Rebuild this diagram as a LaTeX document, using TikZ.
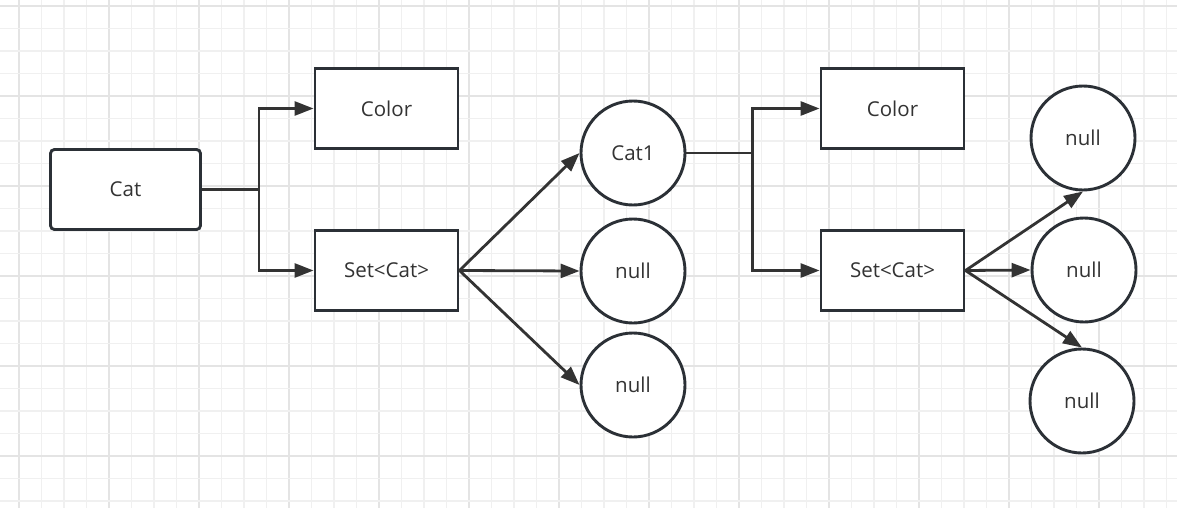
\documentclass[tikz,border=0pt]{standalone}
\usepackage{fontspec}
\setmainfont{Open Sans}
\usepackage{tikz}
\usetikzlibrary{arrows.meta}

\definecolor{edgegrey}{HTML}{2B3036}
\definecolor{arrowgrey}{HTML}{333333}
\definecolor{gridminor}{HTML}{F0F0F0}
\definecolor{gridmajor}{HTML}{E4E4E4}

\tikzset{
  field/.style={draw=edgegrey, line width=2.9pt, fill=white, minimum width=143pt, minimum height=80pt, inner sep=0pt},
  root/.style={field, rounded corners=4pt, minimum width=150pt},
  slot/.style={draw=edgegrey, line width=2.9pt, fill=white, circle, minimum size=104pt, inner sep=0pt},
  link/.style={draw=arrowgrey, line width=2.8pt, -{Triangle[length=19pt, width=14pt]}}
}

\begin{document}
\begin{tikzpicture}[x=1pt, y=-1pt, font=\fontsize{20.5}{24}\selectfont, text=arrowgrey]
  % the page: a squared sheet, minor lines every 22.5 px and a darker line on every fourth one
  \fill[white] (0,0) rectangle (1177,508);
  \useasboundingbox (0,0) rectangle (1177,508);
  \foreach \k in {0,...,51} {
    \pgfmathsetmacro{\gx}{19 + 22.5*\k}
    \pgfmathparse{mod(\k,4) == 0 ? 1 : 0}
    \ifnum\pgfmathresult=1 \draw[gridmajor, line width=1.6pt] (\gx,0) -- (\gx,508);
    \else \draw[gridminor, line width=1.2pt] (\gx,0) -- (\gx,508); \fi
  }
  \foreach \k in {0,...,22} {
    \pgfmathsetmacro{\gy}{6 + 22.5*\k}
    \pgfmathparse{mod(\k,4) == 0 ? 1 : 0}
    \ifnum\pgfmathresult=1 \draw[gridmajor, line width=1.6pt] (0,\gy) -- (1177,\gy);
    \else \draw[gridminor, line width=1.2pt] (0,\gy) -- (1177,\gy); \fi
  }

  % the object Cat, its two fields, and what the set holds
  \node[root] (cat) at (125.5,189.5) {Cat};
  \node[field] (color1) at (386.5,108.5) {Color};
  \node[field] (set1) at (386.5,270.5) {Set<Cat>};
  \node[slot] (cat1) at (633,153) {Cat1};
  \node[slot] (null1) at (633,271) {null};
  \node[slot] (null2) at (633,385) {null};

  % the element Cat1 has the same two fields again
  \node[field] (color2) at (892.5,108.5) {Color};
  \node[field] (set2) at (892.5,270.5) {Set<Cat>};
  \node[slot] (null3) at (1083,138) {null};
  \node[slot] (null4) at (1084,270) {null};
  \node[slot] (null5) at (1082,401) {null};

  \draw[link] (cat.east) -- ++(57,0) |- (color1.west);
  \draw[link] (cat.east) -- ++(57,0) |- (set1.west);
  \draw[link] (set1.east) -- (cat1.west);
  \draw[link] (set1.east) -- (null1.west);
  \draw[link] (set1.east) -- (null2.west);

  \draw[link] (cat1.east) -- ++(66,0) |- (color2.west);
  \draw[link] (cat1.east) -- ++(66,0) |- (set2.west);
  \draw[link] (set2.east) -- (null3.south);
  \draw[link] (set2.east) -- (null4.west);
  \draw[link] (set2.east) -- (null5.north);
\end{tikzpicture}
\end{document}
